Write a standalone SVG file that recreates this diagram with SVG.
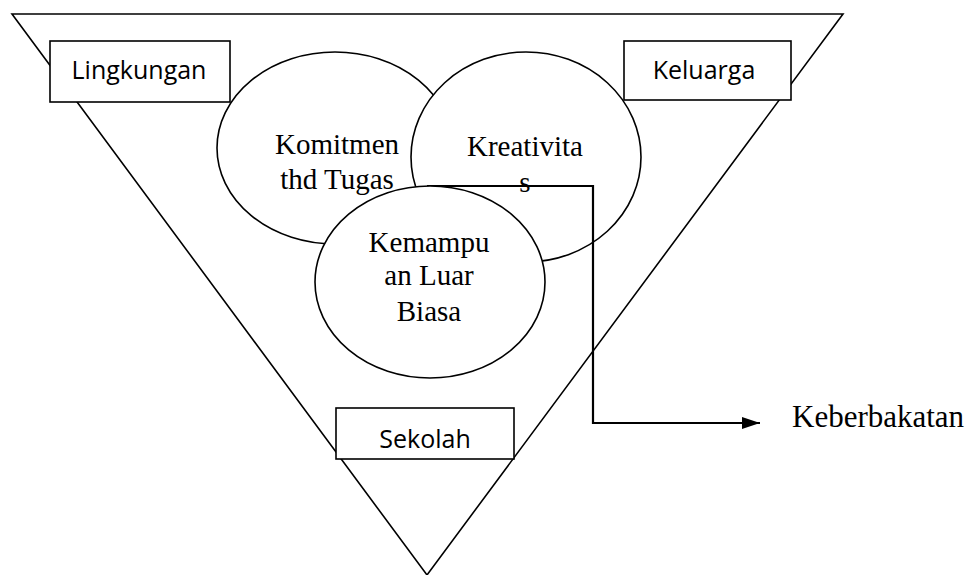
<svg xmlns="http://www.w3.org/2000/svg" width="974" height="575" viewBox="0 0 974 575">
<style>
.ln{fill:none;stroke:#000;stroke-width:1.6}
.box{fill:#fff;stroke:#000;stroke-width:1.6}
.ell{fill:#fff;stroke:#000;stroke-width:1.6}
.sans{font-family:"Open Sans","Noto Sans",sans-serif;font-size:25px;fill:#000;text-anchor:middle}
.serif{font-family:"Liberation Serif","Times New Roman",serif;font-size:29px;fill:#000;text-anchor:middle}
.conn{fill:none;stroke:#000;stroke-width:2.2}
</style>
<defs>
<marker id="arr" viewBox="0 0 10 10" refX="10" refY="5" markerWidth="18" markerHeight="12" markerUnits="userSpaceOnUse" orient="auto" preserveAspectRatio="none">
<path d="M0,0 L10,5 L0,10 z" fill="#000"/>
</marker>
</defs>
<rect width="974" height="575" fill="#fff"/>
<g id="triangle">
<polygon class="ln" points="12,14 843,14 427,575"/>
</g>
<g id="lingkungan">
<rect class="box" x="50" y="41" width="180" height="61"/>
<text class="sans" x="139" y="79">Lingkungan</text>
</g>
<g id="keluarga">
<rect class="box" x="624" y="41" width="167" height="59"/>
<text class="sans" x="704" y="79">Keluarga</text>
</g>
<g id="sekolah">
<rect class="box" x="336" y="408" width="178" height="51"/>
<text class="sans" x="425" y="448">Sekolah</text>
</g>
<g id="komitmen">
<ellipse class="ell" cx="335" cy="148" rx="118" ry="96"/>
<text class="serif" x="337" y="154">Komitmen</text>
<text class="serif" x="337" y="189">thd Tugas</text>
</g>
<g id="kreativitas">
<ellipse class="ell" cx="526" cy="157" rx="115" ry="105"/>
</g>
<g id="connectors">
<polyline class="conn" points="427,186 593,186 593,423 760,423" marker-end="url(#arr)"/>
</g>
<g id="kreativitas-label">
<text class="serif" x="525" y="156">Kreativita</text>
<text class="serif" x="525" y="192">s</text>
</g>
<g id="kemampuan">
<ellipse class="ell" cx="430" cy="282" rx="115" ry="96"/>
<text class="serif" x="429" y="252">Kemampu</text>
<text class="serif" x="429" y="285">an Luar</text>
<text class="serif" x="429" y="321">Biasa</text>
</g>
<g id="keberbakatan">
<text class="serif" x="792" y="427" style="text-anchor:start;font-size:31px">Keberbakatan</text>
</g>
</svg>
